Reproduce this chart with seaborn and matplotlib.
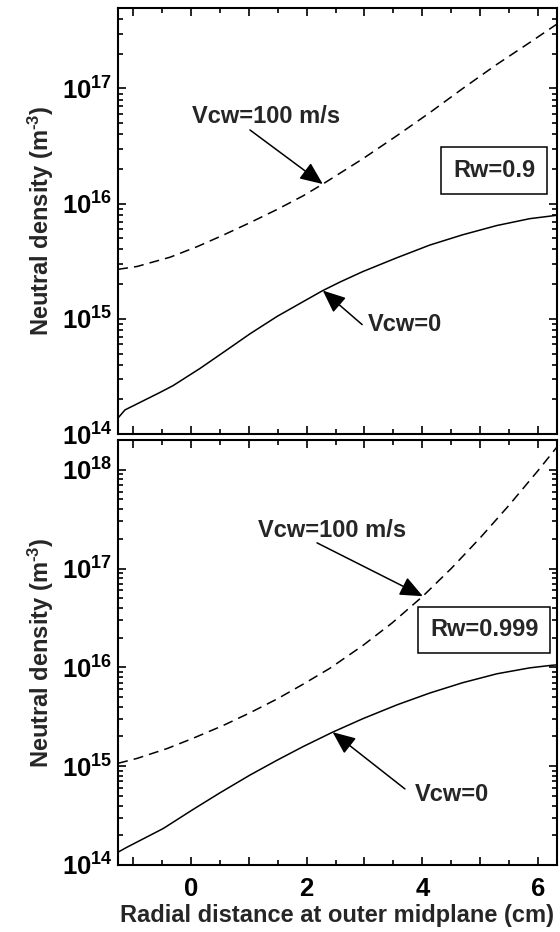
import numpy as np
import pandas as pd
import matplotlib
matplotlib.use("Agg")
import matplotlib.pyplot as plt
from matplotlib.ticker import MultipleLocator, FuncFormatter
import seaborn as sns

# ---- data: radial distance (cm) and neutral density (m^-3) ----
# Rw = 0.9
r_top_v0 = [-1.26, -1.14, -0.54, -0.31, 0.16, 0.62, 1.02, 1.49, 1.94, 2.28,
            2.58, 2.97, 3.56, 4.13, 4.70, 5.29, 5.86, 6.26, 6.33]
n_top_v0 = [1.38e14, 1.62e14, 2.29e14, 2.63e14, 3.72e14, 5.37e14, 7.41e14,
            1.05e15, 1.41e15, 1.76e15, 2.09e15, 2.57e15, 3.39e15, 4.37e15,
            5.37e15, 6.46e15, 7.41e15, 7.85e15, 7.94e15]
r_top_v100 = [-1.26, -0.93, -0.36, 0.10, 0.55, 1.02, 1.49, 1.94, 2.28, 2.97,
              3.56, 4.13, 4.70, 5.29, 5.86, 6.33]
n_top_v100 = [2.69e15, 2.85e15, 3.43e15, 4.22e15, 5.31e15, 6.84e15, 8.91e15,
              1.17e16, 1.48e16, 2.45e16, 3.89e16, 6.17e16, 1.00e17, 1.62e17,
              2.51e17, 3.63e17]

# Rw = 0.999
r_bot_v0 = [-1.26, -1.11, -0.48, 0.03, 0.50, 1.02, 1.49, 1.94, 2.45, 2.97,
            3.56, 4.13, 4.70, 5.29, 5.86, 6.24, 6.33]
n_bot_v0 = [1.35e14, 1.51e14, 2.34e14, 3.63e14, 5.37e14, 8.13e14, 1.15e15,
            1.58e15, 2.21e15, 3.02e15, 4.17e15, 5.50e15, 7.00e15, 8.61e15,
            9.89e15, 1.05e16, 1.06e16]
r_bot_v100 = [-1.26, -0.93, -0.41, 0.03, 0.55, 1.02, 1.49, 1.94, 2.40, 2.97,
              3.48, 4.01, 4.50, 5.00, 5.50, 6.00, 6.33]
n_bot_v100 = [1.07e15, 1.20e15, 1.51e15, 1.91e15, 2.57e15, 3.47e15, 4.79e15,
              6.76e15, 9.77e15, 1.66e16, 2.82e16, 5.25e16, 1.00e17, 2.04e17,
              4.37e17, 9.77e17, 1.70e18]

panel_labels = ["Rw=0.9", "Rw=0.999"]
curve_labels = ["Vcw=0", "Vcw=100 m/s"]
xlabel = "Radial distance at outer midplane (cm)"
ylabel = "Neutral density (m$^{\u2010 3}$)"

# ---- style ----
sns.set_style("ticks")
plt.rcParams.update({
    "font.family": ["Liberation Sans", "DejaVu Sans"],
    "font.weight": "bold",
    "axes.labelweight": "bold",
    "mathtext.fontset": "custom",
    "mathtext.rm": "Liberation Sans:bold",
    "mathtext.bf": "Liberation Sans:bold",
    "mathtext.it": "Liberation Sans:bold:italic",
    "mathtext.default": "bf",
    "axes.linewidth": 1.5,
    "axes.edgecolor": "black",
})

fig = plt.figure(figsize=(5.6, 9.32), dpi=100)
W, H = 560.0, 932.0
left, right = 118 / W, 557 / W
ax_top = fig.add_axes([left, 1 - 434 / H, right - left, (434 - 8) / H])
ax_bot = fig.add_axes([left, 1 - 865 / H, right - left, (865 - 440) / H])

XLIM = (-1.262, 6.33)
dash = (6.5, 4.0)


def draw_panel(ax, r0, n0, r100, n100, ylim):
    d0 = pd.DataFrame({"r": r0, "n": n0})
    d100 = pd.DataFrame({"r": r100, "n": n100})
    sns.lineplot(data=d0, x="r", y="n", ax=ax, color="black", lw=1.1,
                 estimator=None, sort=False)
    sns.lineplot(data=d100, x="r", y="n", ax=ax, color="black", lw=1.1,
                 estimator=None, sort=False)
    ax.lines[-1].set_dashes(dash)
    ax.set_yscale("log")
    ax.set_xlim(*XLIM)
    ax.set_ylim(*ylim)
    ax.xaxis.set_major_locator(MultipleLocator(1))
    ax.xaxis.set_minor_locator(MultipleLocator(0.5))
    ax.xaxis.set_major_formatter(FuncFormatter(
        lambda v, p: f"{int(round(v))}" if int(round(v)) % 2 == 0 else ""))
    ax.tick_params(which="both", direction="in", top=True, right=True,
                   width=1.2, colors="black")
    ax.tick_params(which="major", length=6, labelsize=18.5, pad=4)
    ax.tick_params(which="minor", length=3.5)
    ax.tick_params(axis="x", which="major", pad=9)
    for lab in ax.get_yticklabels() + ax.get_xticklabels():
        lab.set_fontweight("bold")
    ax.set_xlabel("")
    ax.set_ylabel(ylabel, fontsize=17, fontweight="bold")
    ax.yaxis.set_label_coords(-0.142, 0.5)
    for s in ax.spines.values():
        s.set_visible(True)
        s.set_linewidth(1.5)


draw_panel(ax_top, r_top_v0, n_top_v0, r_top_v100, n_top_v100, (1e14, 5.0e17))
draw_panel(ax_bot, r_bot_v0, n_bot_v0, r_bot_v100, n_bot_v100, (1e14, 2.0e18))

ax_top.tick_params(axis="x", labelbottom=False)
ax_bot.set_xlabel(xlabel, fontsize=17, fontweight="bold", labelpad=2)

arrow_kw = dict(arrowstyle="-|>,head_length=0.7,head_width=0.3",
                color="black", lw=1.1, shrinkA=0, shrinkB=0,
                mutation_scale=20)
txt_kw = dict(fontsize=17, fontweight="bold", ha="center", va="center")

# Rw = 0.9 annotations
ax_top.text(1.30, 10 ** 16.76, curve_labels[1], **txt_kw)
ax_top.annotate("", xy=(r_top_v100[8], n_top_v100[8]),
                xytext=(1.02, 10 ** 16.64), arrowprops=arrow_kw)
ax_top.text(3.70, 10 ** 14.95, curve_labels[0], **txt_kw)
ax_top.annotate("", xy=(r_top_v0[9], n_top_v0[9]),
                xytext=(2.96, 10 ** 14.95), arrowprops=arrow_kw)
ax_top.text(5.24, 10 ** 16.29, panel_labels[0], **txt_kw,
            bbox=dict(boxstyle="square,pad=0.5", fc="white", ec="black",
                      lw=1.1))

# Rw = 0.999 annotations
ax_bot.text(2.44, 10 ** 17.39, curve_labels[1], **txt_kw)
ax_bot.annotate("", xy=(r_bot_v100[11], n_bot_v100[11]),
                xytext=(2.18, 10 ** 17.26), arrowprops=arrow_kw)
ax_bot.text(4.51, 10 ** 14.71, curve_labels[0], **txt_kw)
ax_bot.annotate("", xy=(r_bot_v0[8], n_bot_v0[8]),
                xytext=(3.70, 10 ** 14.77), arrowprops=arrow_kw)
ax_bot.text(5.07, 10 ** 16.38, panel_labels[1], **txt_kw,
            bbox=dict(boxstyle="square,pad=0.5", fc="white", ec="black",
                      lw=1.1))

fig.savefig("out.png", dpi=100, facecolor="white")
